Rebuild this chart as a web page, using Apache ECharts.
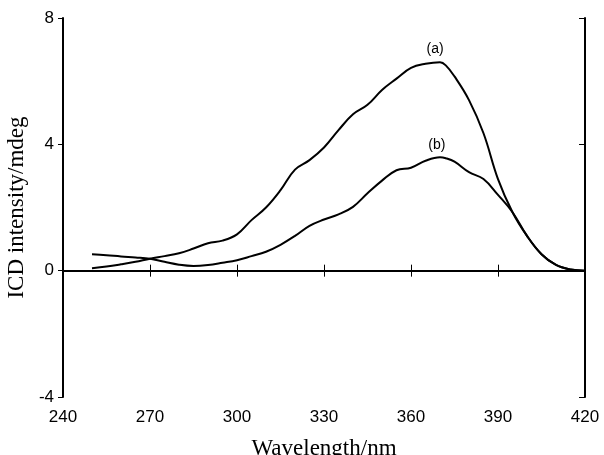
<!DOCTYPE html>
<html lang="en">
<head>
  <meta charset="UTF-8">
  <title>ICD spectra</title>
  <script src="https://cdn.jsdelivr.net/npm/echarts@6/dist/echarts.min.js"></script>
</head>
<body style="margin:0">
  <div id="app" style="width: 604px; height: 455px;"></div>
  <script>
    var wavelengths = [250, 255, 260, 265, 270, 275, 280, 285, 290, 295, 300, 305, 310, 315, 320, 325, 330, 335, 340, 345, 350, 355, 360, 365, 370, 372, 375, 380, 385, 390, 395, 400, 405, 410, 415, 420]
    var curveA = [0.08, 0.13, 0.2, 0.28, 0.38, 0.46, 0.55, 0.7, 0.87, 0.95, 1.15, 1.6, 2.0, 2.55, 3.2, 3.5, 3.9, 4.45, 4.95, 5.25, 5.72, 6.08, 6.42, 6.55, 6.6, 6.5, 6.15, 5.4, 4.35, 2.9, 1.85, 1.1, 0.52, 0.18, 0.04, 0.0]
    var curveB = [0.52, 0.49, 0.45, 0.42, 0.38, 0.28, 0.19, 0.15, 0.18, 0.25, 0.33, 0.46, 0.6, 0.82, 1.1, 1.42, 1.62, 1.78, 2.02, 2.45, 2.85, 3.18, 3.26, 3.48, 3.59, 3.56, 3.45, 3.12, 2.9, 2.4, 1.85, 1.1, 0.52, 0.18, 0.04, 0.0]
    var xTicks = [240, 270, 300, 330, 360, 390, 420]
    var yTicks = [-4, 0, 4, 8]
    var labelA = { text: '(a)', x: 368.3, y: 7.0 }
    var labelB = { text: '(b)', x: 368.9, y: 3.97 }

    function pairs(ys) {
      return wavelengths.map(function (w, i) { return [w, ys[i]] })
    }

    var sans = 'Liberation Sans, Arial, sans-serif'
    var serif = 'Liberation Serif, Times New Roman, serif'

    var mCharts = echarts.init(document.querySelector('#app'))
    var option = {
      animation: false,
      grid: { left: 63, right: 19, top: 18, bottom: 58, outerBoundsMode: 'none', containLabel: false },
      xAxis: [
        {
          type: 'value', min: xTicks[0], max: xTicks[xTicks.length - 1], interval: 30,
          name: 'Wavelength/nm', nameLocation: 'middle', nameGap: 40,
          nameTextStyle: { fontFamily: serif, fontSize: 23, color: '#000' },
          axisLine: { lineStyle: { color: '#000', width: 2 } },
          axisTick: { inside: true, length: 6, lineStyle: { color: '#000', width: 1 } },
          axisLabel: { fontFamily: sans, fontSize: 17, color: '#000', margin: 12 },
          splitLine: { show: false }
        },
        {
          type: 'value', position: 'top', min: 240, max: 420, interval: 30,
          axisLine: { show: true, lineStyle: { color: '#000', width: 2 } },
          axisTick: { inside: true, length: 6, lineStyle: { color: '#000', width: 1 } },
          axisLabel: { show: false },
          splitLine: { show: false }
        }
      ],
      yAxis: [
        {
          type: 'value', min: yTicks[0], max: yTicks[yTicks.length - 1], interval: 4,
          name: 'ICD intensity/mdeg', nameLocation: 'middle', nameGap: 31,
          nameTextStyle: { fontFamily: serif, fontSize: 23, color: '#000' },
          axisLine: { show: true, lineStyle: { color: '#000', width: 2 } },
          axisTick: { show: true, length: 5, lineStyle: { color: '#000', width: 1 } },
          axisLabel: { fontFamily: sans, fontSize: 17, color: '#000', margin: 9 },
          splitLine: { show: false }
        },
        {
          type: 'value', position: 'right', min: -4, max: 8, interval: 4,
          axisLine: { show: true, lineStyle: { color: '#000', width: 2 } },
          axisTick: { show: true, inside: true, length: 6, lineStyle: { color: '#000', width: 1 } },
          axisLabel: { show: false },
          splitLine: { show: false }
        }
      ],
      series: [
        {
          name: 'a', type: 'line', data: pairs(curveA), smooth: 0.4, showSymbol: false,
          lineStyle: { color: '#000', width: 2 },
          markLine: {
            silent: true, symbol: 'none', label: { show: false },
            lineStyle: { color: '#000', width: 1, type: 'solid' },
            data: [{ yAxis: 0 }]
          },
          markPoint: {
            symbolSize: 0,
            label: { show: true, formatter: labelA.text, fontFamily: sans, fontSize: 14, color: '#000' },
            data: [{ coord: [labelA.x, labelA.y] }]
          }
        },
        {
          name: 'b', type: 'line', data: pairs(curveB), smooth: 0.4, showSymbol: false,
          lineStyle: { color: '#000', width: 2 },
          markPoint: {
            symbolSize: 0,
            label: { show: true, formatter: labelB.text, fontFamily: sans, fontSize: 14, color: '#000' },
            data: [{ coord: [labelB.x, labelB.y] }]
          }
        }
      ]
    }
    mCharts.setOption(option)
  </script>
</body>
</html>
